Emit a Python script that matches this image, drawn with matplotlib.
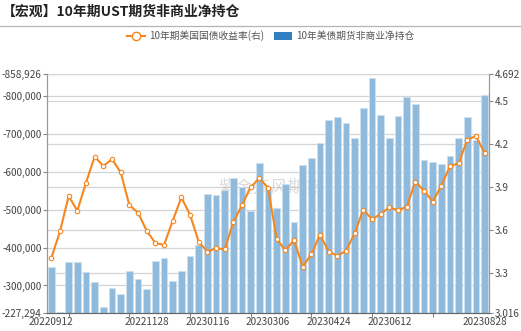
import matplotlib
matplotlib.use("Agg")
import matplotlib.pyplot as plt
from matplotlib.lines import Line2D
from matplotlib.patches import Patch
from matplotlib.ticker import FuncFormatter, FixedLocator
import pandas as pd

plt.rcParams["font.family"] = ["Noto Sans CJK SC", "DejaVu Sans"]

# weekly report dates
dates = pd.date_range("2022-09-12", "2023-08-28", freq="7D").strftime("%Y%m%d").tolist()
shown_dates = ["20220912", "20221128", "20230116", "20230306", "20230424", "20230612", "20230828"]

# 10年美债期货非商业净持仓 (contracts)
net_pos = [
    -348900, -231000, -361300, -362900, -335600, -309200, -242400, -293400, -278300, -338300,
    -317100, -291500, -364700, -371900, -312700, -339100, -378700, -407000, -541800, -538400,
    -552400, -583300, -559500, -496900, -624500, -559500, -504000, -568200, -467800, -617600,
    -636100, -677400, -737400, -746100, -729400, -689800, -768300, -848400, -751400, -689800,
    -747100, -798900, -778800, -631600, -626400, -620300, -642200, -689000, -744500, -684500,
    -803400,
]
# 10年期美国国债收益率 (%)
yield_10y = [
    3.402, 3.588, 3.836, 3.733, 3.930, 4.112, 4.047, 4.094, 4.003, 3.773,
    3.720, 3.593, 3.507, 3.493, 3.661, 3.827, 3.706, 3.516, 3.446, 3.470,
    3.463, 3.652, 3.773, 3.897, 3.961, 3.895, 3.535, 3.456, 3.526, 3.341,
    3.427, 3.565, 3.446, 3.418, 3.451, 3.575, 3.741, 3.673, 3.710, 3.757,
    3.736, 3.761, 3.937, 3.874, 3.797, 3.907, 4.047, 4.066, 4.232, 4.257,
    4.136,
]

left_lim = (-227294, -858926)
left_ticks = [-858926, -800000, -700000, -600000, -500000, -400000, -300000, -227294]
right_lim = (3.016, 4.692)
right_ticks = [3.016, 3.3, 3.6, 3.9, 4.2, 4.5, 4.692]

W, H = 521, 331
fig = plt.figure(figsize=(W / 100, H / 100), dpi=100)
ax = fig.add_axes([47 / W, 1 - 313 / H, (489 - 47) / W, (313 - 74) / H])
ax2 = ax.twinx()

x = list(range(len(dates)))
grid_c = "#d4d4d4"
text_c = "#444444"

# grid lines of both axes, behind the bars
for t in left_ticks:
    ax.axhline(t, color=grid_c, lw=0.9, zorder=0)
for t in right_ticks:
    f = (t - right_lim[0]) / (right_lim[1] - right_lim[0])
    ax.plot([0, 1], [f, f], transform=ax.transAxes, color=grid_c, lw=0.9, zorder=0)

ax.bar(x, net_pos, width=0.78, color="#8fbadb", edgecolor="#cfe1ef", lw=0.6, zorder=2)
ax.set_xlim(-0.5, len(dates) - 0.5)
ax.set_ylim(*left_lim)
ax.yaxis.set_major_locator(FixedLocator(left_ticks))
ax.yaxis.set_major_formatter(FuncFormatter(lambda v, p: f"{v:,.0f}"))

ax2.plot(x, yield_10y, color="#f5871f", lw=1.5, marker="o", ms=3.2,
         mfc="white", mec="#f5871f", mew=0.8, zorder=3)
ax2.set_ylim(*right_lim)
ax2.yaxis.set_major_locator(FixedLocator(right_ticks))
ax2.yaxis.set_major_formatter(FuncFormatter(lambda v, p: f"{v:g}"))

# x axis: labels on some dates, small tick marks every 7 weeks
ax.set_xticks([dates.index(d) for d in shown_dates])
ax.set_xticklabels(shown_dates)
ax.set_xticks(list(range(2, len(dates), 7)), minor=True)
ax.tick_params(axis="x", which="major", length=0, pad=3, labelsize=7.2, labelcolor=text_c)
ax.tick_params(axis="x", which="minor", length=3, color="#666666")
ax.tick_params(axis="y", length=3, color="#888888", labelsize=7.2, labelcolor=text_c, pad=1)
ax2.tick_params(axis="y", length=3, color="#888888", labelsize=7.2, labelcolor=text_c, pad=1)

for a in (ax, ax2):
    a.spines["top"].set_visible(False)
    a.spines["left"].set_color("#999999")
    a.spines["right"].set_color("#999999")
    a.spines["bottom"].set_color("#666666")

# watermark
ax.text(0.505, 0.525, "紫金天风期货", transform=ax.transAxes, ha="center", va="center",
        fontsize=12.5, color="#b0b0b0", alpha=0.45, zorder=1)

fig.text(0.004, 1 - 12 / H, "【宏观】10年期UST期货非商业净持仓", fontsize=10,
         fontweight="bold", color="#222222", va="center")
fig.add_artist(Line2D([0, 1], [1 - 25.5 / H] * 2, color="#b5b5b5", lw=0.9))

handles = [
    Line2D([], [], color="#f5871f", lw=1.5, marker="o", ms=6, mfc="white", mec="#f5871f", mew=1),
    Patch(facecolor="#2f7fc1", edgecolor="none"),
]
fig.legend(handles, ["10年期美国国债收益率(右)", "10年美债期货非商业净持仓"],
           loc="center", bbox_to_anchor=(0.52, 1 - 36 / H), ncol=2, frameon=False,
           fontsize=7, labelcolor="#555555", handlelength=1.8, handleheight=0.9,
           columnspacing=1.0, handletextpad=0.5)

fig.savefig("out.png", dpi=100)
